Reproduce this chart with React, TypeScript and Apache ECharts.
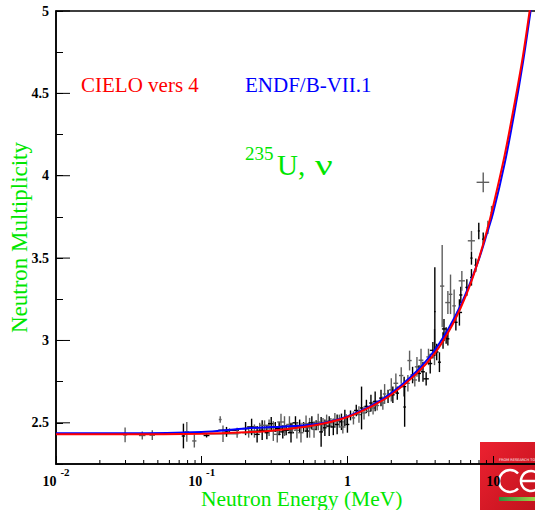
import React, { useEffect, useRef } from 'react';
import * as echarts from 'echarts';

const X_MIN = 0.01;
const X_MAX = 20;
const Y_MIN = 2.25;
const Y_MAX = 5;

// Evaluated curves (energy in MeV, nu-bar)
const curveEnergy = [0.01, 0.03, 0.1, 0.2, 0.3, 0.5, 0.7, 1, 1.5, 2, 3, 4, 5, 6, 7, 8, 9, 10, 12, 14, 16, 18, 20];
const cieloNu = [2.430, 2.430, 2.433, 2.442, 2.452, 2.474, 2.497, 2.535, 2.605, 2.670, 2.800, 2.925, 3.060, 3.200, 3.345, 3.500, 3.655, 3.815, 4.125, 4.435, 4.725, 5.030, 5.330];
const endfNu = [2.437, 2.436, 2.444, 2.466, 2.474, 2.484, 2.500, 2.538, 2.610, 2.680, 2.815, 2.945, 3.080, 3.215, 3.355, 3.495, 3.640, 3.775, 4.075, 4.385, 4.685, 4.990, 5.290];

// Experimental points: [E, nu, dE, dnu, shade(0 black / 1 grey)]
const expLowEnergy = [
  [0.0298, 2.427, 0.001, 0.045, 1],
  [0.0391, 2.423, 0.002, 0.024, 1],
  [0.0458, 2.425, 0.002, 0.030, 1],
  [0.0749, 2.420, 0.002, 0.075, 0],
  [0.079, 2.445, 0.003, 0.060, 1],
  [0.089, 2.390, 0.003, 0.040, 1],
  [0.108, 2.423, 0.005, 0.012, 0],
  [0.134, 2.520, 0.003, 0.020, 1],
  [0.14, 2.433, 0.039, 0.050, 1],
  [0.148, 2.445, 0.005, 0.030, 0],
  [0.155, 2.455, 0.025, 0.010, 0],
  [0.175, 2.440, 0.010, 0.030, 1],
];
const expMidEnergy = [
  [0.20, 2.465, 0.010, 0.04, 0], [0.21, 2.440, 0.020, 0.03, 1], [0.22, 2.475, 0.015, 0.05, 0],
  [0.23, 2.450, 0.020, 0.04, 1], [0.24, 2.430, 0.010, 0.05, 0], [0.25, 2.470, 0.020, 0.03, 1],
  [0.26, 2.455, 0.015, 0.06, 0], [0.27, 2.485, 0.020, 0.03, 1], [0.28, 2.440, 0.010, 0.04, 0],
  [0.29, 2.470, 0.020, 0.05, 1], [0.30, 2.495, 0.015, 0.04, 0], [0.31, 2.450, 0.020, 0.06, 1],
  [0.32, 2.475, 0.010, 0.03, 0], [0.33, 2.430, 0.020, 0.05, 1], [0.34, 2.465, 0.020, 0.04, 0],
  [0.35, 2.505, 0.020, 0.05, 1], [0.36, 2.445, 0.015, 0.04, 0], [0.37, 2.480, 0.020, 0.06, 1],
  [0.38, 2.455, 0.020, 0.03, 0], [0.40, 2.490, 0.020, 0.05, 1], [0.41, 2.440, 0.020, 0.06, 0],
  [0.42, 2.470, 0.030, 0.03, 1], [0.44, 2.500, 0.020, 0.04, 0], [0.45, 2.455, 0.020, 0.05, 1],
  [0.47, 2.480, 0.030, 0.04, 0], [0.48, 2.440, 0.020, 0.06, 1], [0.50, 2.475, 0.020, 0.03, 0],
  [0.52, 2.495, 0.030, 0.05, 1], [0.53, 2.450, 0.020, 0.04, 0], [0.55, 2.470, 0.020, 0.06, 1],
  [0.57, 2.500, 0.030, 0.04, 0], [0.59, 2.460, 0.020, 0.05, 1], [0.61, 2.485, 0.030, 0.03, 0],
  [0.63, 2.505, 0.020, 0.05, 1], [0.66, 2.445, 0.020, 0.09, 0], [0.68, 2.490, 0.030, 0.04, 1],
  [0.70, 2.470, 0.020, 0.05, 0], [0.72, 2.510, 0.030, 0.04, 1], [0.75, 2.480, 0.030, 0.06, 0],
  [0.77, 2.500, 0.020, 0.03, 1], [0.80, 2.475, 0.030, 0.05, 0], [0.82, 2.520, 0.030, 0.04, 1],
  [0.85, 2.490, 0.030, 0.06, 0], [0.88, 2.510, 0.030, 0.04, 1], [0.91, 2.506, 0.030, 0.05, 0],
  [0.93, 2.475, 0.040, 0.04, 1], [0.96, 2.530, 0.030, 0.05, 0], [0.98, 2.524, 0.030, 0.03, 1],
  [1.00, 2.490, 0.030, 0.05, 0],
];
const expHighEnergy = [
  [1.05, 2.545, 0.03, 0.03, 0], [1.10, 2.530, 0.03, 0.04, 1], [1.15, 2.575, 0.04, 0.035, 0],
  [1.20, 2.550, 0.04, 0.05, 1], [1.25, 2.590, 0.03, 0.13, 0], [1.30, 2.560, 0.05, 0.04, 1],
  [1.35, 2.600, 0.04, 0.04, 0], [1.40, 2.570, 0.06, 0.03, 1], [1.45, 2.620, 0.04, 0.05, 0],
  [1.50, 2.590, 0.05, 0.04, 1], [1.55, 2.630, 0.05, 0.06, 0], [1.60, 2.605, 0.05, 0.03, 1],
  [1.70, 2.650, 0.05, 0.05, 0], [1.75, 2.620, 0.06, 0.04, 1], [1.80, 2.675, 0.05, 0.06, 1],
  [1.90, 2.660, 0.06, 0.04, 0], [2.00, 2.700, 0.07, 0.07, 1], [2.05, 2.670, 0.06, 0.05, 0],
  [2.15, 2.740, 0.08, 0.06, 1], [2.20, 2.680, 0.06, 0.04, 0], [2.34, 2.787, 0.08, 0.05, 1],
  [2.45, 2.720, 0.08, 0.06, 0], [2.47, 2.596, 0.05, 0.12, 0], [2.60, 2.740, 0.08, 0.05, 1],
  [2.67, 2.878, 0.09, 0.06, 1], [2.80, 2.790, 0.09, 0.05, 0], [2.90, 2.760, 0.10, 0.04, 1],
  [3.00, 2.840, 0.10, 0.06, 1], [3.10, 2.800, 0.10, 0.05, 0], [3.20, 2.880, 0.12, 0.07, 1],
  [3.30, 2.810, 0.10, 0.06, 0], [3.47, 2.767, 0.15, 0.04, 0], [3.60, 2.900, 0.12, 0.05, 1],
  [3.70, 2.860, 0.12, 0.06, 0], [3.86, 2.940, 0.18, 0.05, 0], [3.96, 2.960, 0.10, 0.11, 1],
  [3.98, 3.175, 0.05, 0.27, 0], [4.10, 2.930, 0.12, 0.05, 0], [4.28, 2.868, 0.10, 0.06, 0],
  [4.47, 3.330, 0.15, 0.25, 1], [4.53, 3.000, 0.12, 0.05, 0], [4.60, 3.070, 0.15, 0.06, 0],
  [4.76, 3.030, 0.12, 0.05, 0], [4.89, 3.230, 0.20, 0.07, 1], [4.89, 3.010, 0.12, 0.04, 0],
  [5.10, 3.280, 0.15, 0.12, 1], [5.40, 3.210, 0.15, 0.10, 1], [5.55, 3.110, 0.15, 0.05, 0],
  [5.87, 3.170, 0.25, 0.08, 0], [6.00, 3.276, 0.15, 0.05, 0], [6.10, 3.362, 0.30, 0.06, 1],
  [6.60, 3.322, 0.15, 0.05, 0], [7.10, 3.383, 0.15, 0.05, 0], [7.10, 3.500, 0.12, 0.04, 0],
  [7.10, 3.605, 0.40, 0.06, 1], [7.60, 3.457, 0.15, 0.04, 0], [7.97, 3.665, 0.12, 0.05, 0],
  [8.55, 3.615, 0.15, 0.04, 0], [8.55, 3.960, 0.85, 0.06, 1], [9.20, 3.686, 0.15, 0.04, 1],
  [9.75, 3.777, 0.15, 0.04, 1],
];

const xMinorTicks = [0.02, 0.03, 0.04, 0.05, 0.06, 0.07, 0.08, 0.09, 0.2, 0.3, 0.4, 0.5, 0.6, 0.7, 0.8, 0.9, 2, 3, 4, 5, 6, 7, 8, 9];
const yMajorTicks = [2.5, 3, 3.5, 4, 4.5, 5];

const SERIF = '"Liberation Serif", "DejaVu Serif", serif';
const GREEN = '#00e600';

export default function App() {
  const ref = useRef<HTMLDivElement>(null);
  useEffect(() => {
    document.body.style.margin = '0';
    if (!ref.current) return;
    const chart = echarts.init(ref.current, undefined, { renderer: 'svg' });
    const expData = [...expLowEnergy, ...expMidEnergy, ...expHighEnergy];
    const option: any = {
      animation: false,
      grid: {
        left: 56, right: -2, top: 11, bottom: 46, show: true, borderColor: '#000', borderWidth: 1.5,
        backgroundColor: 'transparent', containLabel: false, outerBoundsMode: 'none',
      },
      xAxis: {
        type: 'log', logBase: 10, min: X_MIN, max: X_MAX,
        axisLine: { lineStyle: { color: '#000', width: 1.5 } },
        axisTick: { inside: true, length: 8, lineStyle: { color: '#000', width: 1 } },
        splitLine: { show: false },
        axisLabel: {
          margin: 2, showMinLabel: true, showMaxLabel: false,
          formatter: (v: number) => {
            const p = Math.round(Math.log10(v));
            if (p < 0) return `{b|10}{s|${p}}`;
            return `{b|${Math.round(Math.pow(10, p))}}`;
          },
          rich: {
            b: { fontFamily: SERIF, fontWeight: 'bold', fontSize: 14, color: '#000', lineHeight: 22, verticalAlign: 'bottom' },
            s: { fontFamily: SERIF, fontWeight: 'bold', fontSize: 11, color: '#000', verticalAlign: 'top', lineHeight: 10, padding: [0, 0, 0, 4] },
          },
        },
      },
      yAxis: {
        type: 'value', min: Y_MIN, max: Y_MAX, interval: 0.25,
        name: 'Neutron Multiplicity', nameLocation: 'middle', nameGap: 25, nameMoveOverlap: false,
        nameTextStyle: { color: GREEN, fontFamily: SERIF, fontSize: 23 },
        axisLine: { show: true, lineStyle: { color: '#000', width: 1.5 } },
        axisTick: { inside: true, length: 7, lineStyle: { color: '#000', width: 1 } },
        splitLine: { show: false },
        axisLabel: {
          margin: 7, color: '#000', fontFamily: SERIF, fontWeight: 'bold', fontSize: 14,
          formatter: (v: number) => (Math.abs(v * 2 - Math.round(v * 2)) < 1e-6 ? String(Math.round(v * 10) / 10) : ''),
        },
      },
      series: [
        {
          type: 'custom', name: 'xminor', clip: false, silent: true,
          data: xMinorTicks.map((v) => [v, Y_MIN]),
          encode: { x: 0, y: 1 },
          renderItem: (_p: any, api: any) => {
            const c = api.coord([api.value(0), Y_MIN]);
            return { type: 'line', shape: { x1: c[0], y1: c[1], x2: c[0], y2: c[1] - 4 }, style: { stroke: '#000', lineWidth: 1 } };
          },
        },
        {
          type: 'custom', name: 'ymajor', clip: false, silent: true,
          data: yMajorTicks.map((v) => [X_MIN, v]),
          encode: { x: 0, y: 1 },
          renderItem: (_p: any, api: any) => {
            const c = api.coord([X_MIN, api.value(1)]);
            return { type: 'line', shape: { x1: c[0], y1: c[1], x2: c[0] + 14, y2: c[1] }, style: { stroke: '#000', lineWidth: 1 } };
          },
        },
        {
          type: 'custom', name: 'exp', clip: true, silent: true, z: 3,
          data: expData,
          encode: { x: 0, y: 1 },
          renderItem: (_p: any, api: any) => {
            const e = api.value(0), n = api.value(1), de = api.value(2), dn = api.value(3), sh = api.value(4);
            const l = api.coord([e - de, n]);
            const r = api.coord([e + de, n]);
            const t = api.coord([e, n + dn]);
            const b = api.coord([e, n - dn]);
            const stroke = sh ? '#5e5e5e' : '#000';
            return {
              type: 'group',
              children: [
                { type: 'line', shape: { x1: l[0], y1: l[1], x2: r[0], y2: r[1] }, style: { stroke, lineWidth: 1.4 } },
                { type: 'line', shape: { x1: t[0], y1: t[1], x2: b[0], y2: b[1] }, style: { stroke, lineWidth: 1.4 } },
              ],
            };
          },
        },
        {
          type: 'line', name: 'ENDF/B-VII.1', z: 4, smooth: 0.3, showSymbol: false, clip: true,
          data: curveEnergy.map((e, i) => [e, endfNu[i]]),
          lineStyle: { color: '#0000ff', width: 2 },
        },
        {
          type: 'line', name: 'CIELO vers 4', z: 5, smooth: 0.3, showSymbol: false, clip: true,
          data: curveEnergy.map((e, i) => [e, cieloNu[i]]),
          lineStyle: { color: '#ff0000', width: 2 },
        },
      ],
      graphic: [
        {
          type: 'rect', z: -5, shape: { x: 480, y: 442, width: 55, height: 68 },
          style: { fill: new echarts.graphic.LinearGradient(0, 0, 1, 1, [{ offset: 0, color: '#ec2130' }, { offset: 1, color: '#c2121d' }]) },
        },
        { type: 'text', z: -4, x: 499, y: 458, style: { text: 'FROM RESEARCH TO', fill: '#ffffff', fontSize: 3.5, fontFamily: 'DejaVu Sans' } },
        { type: 'arc', z: -4, shape: { cx: 510, cy: 481, r: 11, startAngle: -0.75, endAngle: 0.75, clockwise: false }, style: { stroke: '#ffffff', lineWidth: 2.5, fill: 'none' } },
        { type: 'arc', z: -4, shape: { cx: 531, cy: 481, r: 10, startAngle: 0, endAngle: 0.8, clockwise: false }, style: { stroke: '#ffffff', lineWidth: 2.5, fill: 'none' } },
        { type: 'line', z: -4, shape: { x1: 521, y1: 481, x2: 535, y2: 481 }, style: { stroke: '#ffffff', lineWidth: 2.5 } },
        {
          type: 'rect', z: -4, shape: { x: 499, y: 497, width: 36, height: 4 },
          style: { fill: new echarts.graphic.LinearGradient(0, 0, 1, 0, [{ offset: 0, color: '#2f8f3a' }, { offset: 1, color: '#9fd44a' }]) },
        },
        { type: 'text', x: 81, y: 74, style: { text: 'CIELO vers 4', fill: '#ff0000', fontSize: 21, fontFamily: SERIF } },
        { type: 'text', x: 245, y: 74, style: { text: 'ENDF/B-VII.1', fill: '#0000ff', fontSize: 21, fontFamily: SERIF } },
        { type: 'text', x: 245, y: 144, style: { text: '235', fill: GREEN, fontSize: 19, fontFamily: SERIF } },
        { type: 'text', x: 277, y: 150, style: { text: 'U,', fill: GREEN, fontSize: 29, fontFamily: SERIF } },
        { type: 'text', x: 315, y: 150, scaleX: 1.35, style: { text: 'ν', fill: GREEN, fontSize: 29, fontFamily: SERIF } },
        { type: 'text', x: 201, y: 488, style: { text: 'Neutron Energy (MeV)', fill: GREEN, fontSize: 21.5, fontFamily: SERIF } },
      ],
    };
    chart.setOption(option);
    return () => chart.dispose();
  }, []);
  return <div ref={ref} style={{ width: 535, height: 510 }} />;
}
